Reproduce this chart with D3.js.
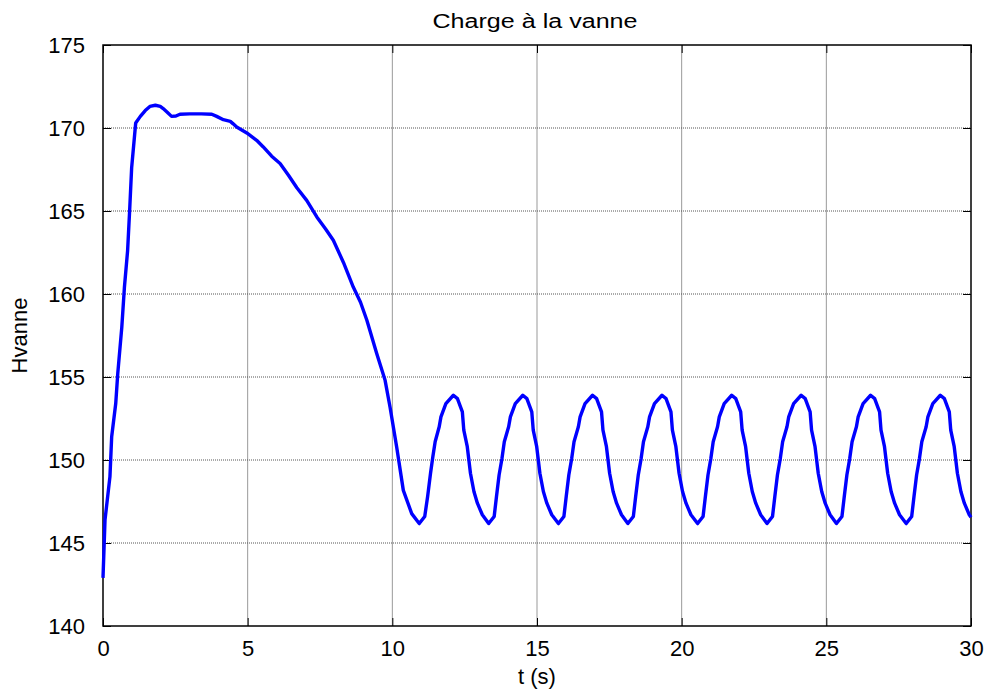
<!DOCTYPE html>
<html>
<head>
<meta charset="utf-8">
<script src="https://cdn.jsdelivr.net/npm/d3@7"></script>
<style>
  body { margin: 0; background: #fff; }
  text { font-family: "Liberation Sans", Arial, sans-serif; }
</style>
</head>
<body>
<script>
// Time (s) and valve head values
const tValues = [
  0.00, 0.07, 0.24, 0.30, 0.44, 0.51, 0.65, 0.74, 0.85, 0.92, 0.99, 1.13, 1.29, 1.46, 1.62, 1.81,
  1.98, 2.08, 2.22, 2.37, 2.52, 2.66, 3.00, 3.40, 3.76, 3.93, 4.16, 4.40, 4.50, 4.62, 4.97, 5.31,
  5.54, 5.83, 6.12, 6.41, 6.70, 7.04, 7.39, 7.70, 7.96, 8.31, 8.65, 8.90, 9.12, 9.46, 9.75, 9.92,
  10.15, 10.38, 10.67, 10.93,
  11.12, 11.22, 11.32, 11.40, 11.48, 11.62, 11.68, 11.85, 12.11, 12.25, 12.42, 12.47, 12.59, 12.70, 12.82, 12.94, 13.11, 13.33,
  13.52, 13.60, 13.69, 13.79, 13.87, 14.02, 14.08, 14.25, 14.51, 14.65, 14.82, 14.87, 14.99, 15.10, 15.22, 15.34, 15.51, 15.74,
  15.93, 16.01, 16.10, 16.20, 16.28, 16.43, 16.49, 16.66, 16.92, 17.06, 17.23, 17.28, 17.40, 17.51, 17.63, 17.75, 17.92, 18.14,
  18.33, 18.41, 18.50, 18.60, 18.68, 18.83, 18.89, 19.06, 19.32, 19.46, 19.63, 19.68, 19.80, 19.91, 20.03, 20.15, 20.32, 20.55,
  20.74, 20.82, 20.91, 21.01, 21.09, 21.24, 21.30, 21.47, 21.73, 21.87, 22.04, 22.09, 22.21, 22.32, 22.44, 22.56, 22.73, 22.95,
  23.14, 23.22, 23.31, 23.41, 23.49, 23.64, 23.70, 23.87, 24.13, 24.27, 24.44, 24.49, 24.61, 24.72, 24.84, 24.96, 25.13, 25.35,
  25.54, 25.62, 25.71, 25.81, 25.89, 26.04, 26.10, 26.27, 26.53, 26.67, 26.84, 26.89, 27.01, 27.12, 27.24, 27.36, 27.53, 27.76,
  27.95, 28.03, 28.12, 28.22, 28.30, 28.45, 28.51, 28.68, 28.94, 29.08, 29.25, 29.30, 29.42, 29.53, 29.65, 29.77, 29.94, 30.00
];
const hValues = [
  142.9, 146.4, 149.0, 151.4, 153.4, 155.2, 158.0, 160.4, 162.6, 165.0, 167.6, 170.3, 170.7, 171.05, 171.3, 171.37,
  171.3, 171.17, 170.95, 170.7, 170.72, 170.83, 170.85, 170.85, 170.83, 170.7, 170.5, 170.4, 170.25, 170.06, 169.7, 169.26,
  168.86, 168.3, 167.86, 167.15, 166.4, 165.64, 164.64, 163.9, 163.24, 161.9, 160.42, 159.5, 158.42, 156.41, 154.8, 153.19,
  150.78, 148.17, 146.77, 146.17,
  146.6, 147.8, 149.2, 150.2, 151.1, 152.0, 152.6, 153.4, 153.9, 153.7, 152.9, 151.8, 150.8, 149.2, 148.1, 147.4, 146.7, 146.17,
  146.6, 147.8, 149.1, 150.1, 151.1, 152.0, 152.6, 153.4, 153.9, 153.7, 152.9, 151.8, 150.8, 149.2, 148.1, 147.4, 146.7, 146.17,
  146.6, 147.8, 149.1, 150.1, 151.1, 152.0, 152.6, 153.4, 153.9, 153.7, 152.9, 151.8, 150.8, 149.2, 148.1, 147.4, 146.7, 146.17,
  146.6, 147.8, 149.1, 150.1, 151.1, 152.0, 152.6, 153.4, 153.9, 153.7, 152.9, 151.8, 150.8, 149.2, 148.1, 147.4, 146.7, 146.17,
  146.6, 147.8, 149.1, 150.1, 151.1, 152.0, 152.6, 153.4, 153.9, 153.7, 152.9, 151.8, 150.8, 149.2, 148.1, 147.4, 146.7, 146.17,
  146.6, 147.8, 149.1, 150.1, 151.1, 152.0, 152.6, 153.4, 153.9, 153.7, 152.9, 151.8, 150.8, 149.2, 148.1, 147.4, 146.7, 146.17,
  146.6, 147.8, 149.1, 150.1, 151.1, 152.0, 152.6, 153.4, 153.9, 153.7, 152.9, 151.8, 150.8, 149.2, 148.1, 147.4, 146.7, 146.17,
  146.6, 147.8, 149.1, 150.1, 151.1, 152.0, 152.6, 153.4, 153.9, 153.7, 152.9, 151.8, 150.8, 149.2, 148.1, 147.4, 146.7, 146.55
];
const xTicks = [0, 5, 10, 15, 20, 25, 30];
const yTicks = [140, 145, 150, 155, 160, 165, 170, 175];

const W = 989, H = 690;
const margin = { top: 45, right: 18, bottom: 64, left: 103 };
const iw = W - margin.left - margin.right;
const ih = H - margin.top - margin.bottom;

const svg = d3.select('body').append('svg')
  .attr('width', W)
  .attr('height', H);

const g = svg.append('g').attr('transform', `translate(${margin.left},${margin.top})`);

const x = d3.scaleLinear().domain([0, 30]).range([0, iw]);
const y = d3.scaleLinear().domain([140, 175]).range([ih, 0]);

// grid
g.append('g').selectAll('line')
  .data(xTicks.slice(1, -1))
  .join('line')
  .attr('x1', d => x(d)).attr('x2', d => x(d))
  .attr('y1', 0).attr('y2', ih)
  .attr('stroke', '#999').attr('stroke-width', 1);

g.append('g').selectAll('line')
  .data(yTicks.slice(1, -1))
  .join('line')
  .attr('x1', 0).attr('x2', iw)
  .attr('y1', d => y(d)).attr('y2', d => y(d))
  .attr('stroke', '#555').attr('stroke-width', 1)
  .attr('stroke-dasharray', '1,1');

// axes with inward ticks
const tick = 8;
const styleAxis = sel => {
  sel.select('.domain').remove();
  sel.selectAll('line').attr('stroke', '#000');
  sel.selectAll('text')
    .attr('fill', '#000')
    .style('font-size', '22px');
};

g.append('g')
  .attr('transform', `translate(0,${ih})`)
  .call(d3.axisBottom(x).tickValues(xTicks).tickSize(-tick).tickPadding(14).tickFormat(d3.format('d')))
  .call(styleAxis);

g.append('g')
  .call(d3.axisTop(x).tickValues(xTicks).tickSize(-tick).tickFormat(''))
  .call(styleAxis);

g.append('g')
  .call(d3.axisLeft(y).tickValues(yTicks).tickSize(-tick).tickPadding(18).tickFormat(d3.format('d')))
  .call(styleAxis);

g.append('g')
  .attr('transform', `translate(${iw},0)`)
  .call(d3.axisRight(y).tickValues(yTicks).tickSize(-tick).tickFormat(''))
  .call(styleAxis);

// box
g.append('rect')
  .attr('width', iw).attr('height', ih)
  .attr('fill', 'none')
  .attr('stroke', '#000')
  .attr('stroke-width', 1.5);

// curve
const line = d3.line()
  .x((d, i) => x(tValues[i]))
  .y(d => y(d));

g.append('path')
  .datum(hValues)
  .attr('d', line)
  .attr('fill', 'none')
  .attr('stroke', '#0000ff')
  .attr('stroke-width', 3.4)
  .attr('stroke-linejoin', 'round');

// labels
svg.append('text')
  .attr('x', 535).attr('y', 28)
  .attr('text-anchor', 'middle')
  .attr('textLength', 205)
  .attr('lengthAdjust', 'spacingAndGlyphs')
  .style('font-size', '20px')
  .text('Charge à la vanne');

svg.append('text')
  .attr('x', margin.left + iw / 2).attr('y', 684)
  .attr('text-anchor', 'middle')
  .style('font-size', '22px')
  .text('t (s)');

svg.append('text')
  .attr('transform', `translate(27,${margin.top + ih / 2}) rotate(-90)`)
  .attr('text-anchor', 'middle')
  .style('font-size', '22px')
  .text('Hvanne');
</script>
</body>
</html>
